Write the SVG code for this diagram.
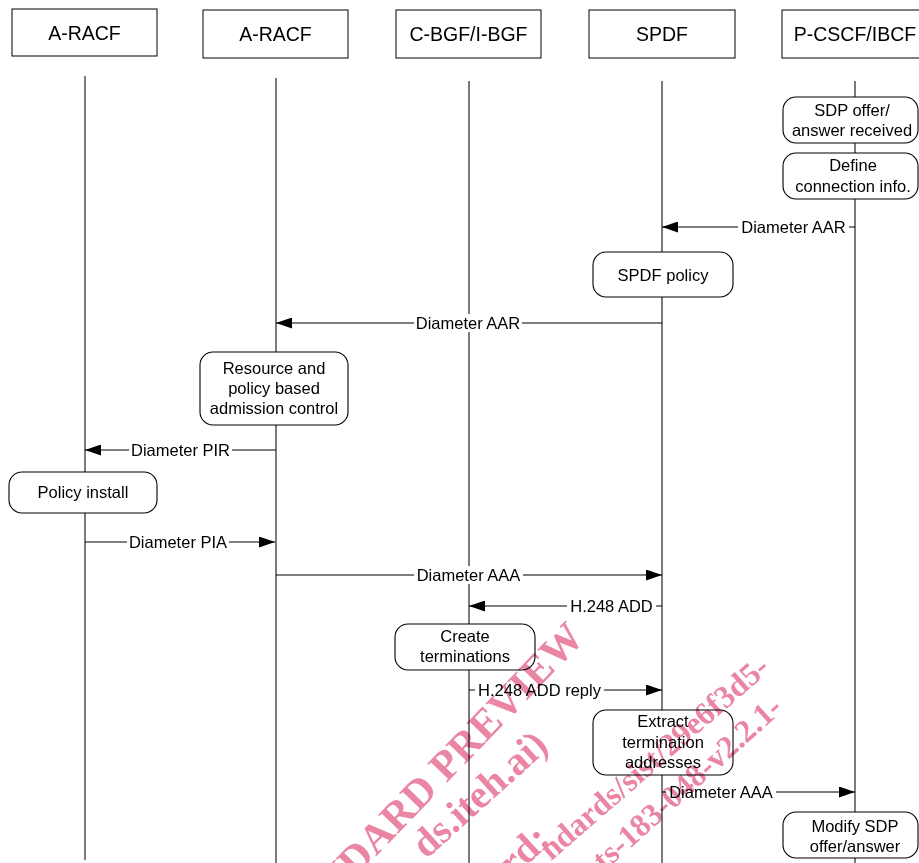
<svg xmlns="http://www.w3.org/2000/svg" width="919" height="863" viewBox="0 0 919 863">
<defs>
<style>
text{font-family:"Liberation Sans",Arial,sans-serif;fill:#000}
.hd{font-size:19.5px;text-anchor:middle}
.bx{fill:#fff;stroke:#000;stroke-width:1}
.act{fill:#fff;stroke:#000;stroke-width:1.1}
.at{font-size:16.5px;text-anchor:middle}
.life{stroke:#333;stroke-width:1.3;fill:none}
.msg{stroke:#000;stroke-width:1.1;fill:none}
.lbl{font-size:16.5px;text-anchor:middle}
.lb{fill:#fff}
.wm{font-family:"Liberation Serif","Times New Roman",serif;font-weight:bold;fill:#ea86a4;text-anchor:end}
</style>
<marker id="ah" markerUnits="userSpaceOnUse" markerWidth="17" markerHeight="11" refX="16" refY="5.5" orient="auto">
<path d="M0,0 L16,5.5 L0,11 Z" fill="#000"/>
</marker>
</defs>
<rect width="919" height="863" fill="#fff"/>

<g id="lifelines">
<line class="life" x1="85" y1="76" x2="85" y2="860"/>
<line class="life" x1="276" y1="78" x2="276" y2="863"/>
<line class="life" x1="469" y1="81" x2="469" y2="863"/>
<line class="life" x1="662" y1="81" x2="662" y2="863"/>
<line class="life" x1="855" y1="81" x2="855" y2="863"/>
</g>

<g id="head-aracf1"><rect class="bx" x="12" y="9" width="145" height="47"/><text class="hd" x="84.5" y="39.5">A-RACF</text></g>
<g id="head-aracf2"><rect class="bx" x="203" y="10" width="145" height="48"/><text class="hd" x="275.5" y="41">A-RACF</text></g>
<g id="head-cbgf"><rect class="bx" x="396" y="10" width="145" height="48"/><text class="hd" x="468.5" y="41">C-BGF/I-BGF</text></g>
<g id="head-spdf"><rect class="bx" x="589" y="10" width="146" height="48"/><text class="hd" x="662" y="41">SPDF</text></g>
<g id="head-pcscf"><rect class="bx" x="782" y="10" width="145" height="48"/><text class="hd" x="855" y="41">P-CSCF/IBCF</text></g>

<g id="connectors">
<line class="msg" x1="855" y1="227" x2="662" y2="227" marker-end="url(#ah)"/>
<rect class="lb" x="738" y="218" width="111" height="18"/>
<text class="lbl" x="793.5" y="233">Diameter AAR</text>

<line class="msg" x1="662" y1="323" x2="276" y2="323" marker-end="url(#ah)"/>
<rect class="lb" x="414" y="314" width="108" height="18"/>
<text class="lbl" x="468" y="329">Diameter AAR</text>

<line class="msg" x1="276" y1="450" x2="85" y2="450" marker-end="url(#ah)"/>
<rect class="lb" x="129" y="441" width="103" height="18"/>
<text class="lbl" x="180.5" y="456">Diameter PIR</text>

<line class="msg" x1="85" y1="542" x2="275" y2="542" marker-end="url(#ah)"/>
<rect class="lb" x="127" y="533" width="102" height="18"/>
<text class="lbl" x="178" y="548">Diameter PIA</text>

<line class="msg" x1="276" y1="575" x2="662" y2="575" marker-end="url(#ah)"/>
<rect class="lb" x="414" y="566" width="109" height="18"/>
<text class="lbl" x="468.5" y="581">Diameter AAA</text>

<line class="msg" x1="662" y1="606" x2="469" y2="606" marker-end="url(#ah)"/>
<rect class="lb" x="567" y="597" width="89" height="18"/>
<text class="lbl" x="611.5" y="612">H.248 ADD</text>

<line class="msg" x1="469" y1="690" x2="662" y2="690" marker-end="url(#ah)"/>
<rect class="lb" x="475" y="681" width="129" height="18"/>
<text class="lbl" x="539.5" y="696">H.248 ADD reply</text>

<line class="msg" x1="662" y1="792" x2="855" y2="792" marker-end="url(#ah)"/>
<rect class="lb" x="666" y="783" width="110" height="18"/>
<text class="lbl" x="721" y="798">Diameter AAA</text>
</g>

<g id="act-sdp-received"><rect class="act" x="783" y="97" width="135" height="46" rx="13"/><text class="at" x="852" y="116">SDP offer/</text><text class="at" x="852" y="136">answer received</text></g>
<g id="act-define"><rect class="act" x="783" y="153" width="135" height="46" rx="13"/><text class="at" x="853" y="171">Define</text><text class="at" x="853" y="192">connection info.</text></g>
<g id="act-spdf-policy"><rect class="act" x="593" y="252" width="140" height="45" rx="13"/><text class="at" x="663" y="281">SPDF policy</text></g>
<g id="act-resource"><rect class="act" x="200" y="352" width="148" height="73" rx="13"/><text class="at" x="274" y="374">Resource and</text><text class="at" x="274" y="394">policy based</text><text class="at" x="274" y="414">admission control</text></g>
<g id="act-policy-install"><rect class="act" x="9" y="472" width="148" height="41" rx="13"/><text class="at" x="83" y="498">Policy install</text></g>
<g id="act-create"><rect class="act" x="395" y="624" width="140" height="46" rx="13"/><text class="at" x="465" y="642">Create</text><text class="at" x="465" y="662">terminations</text></g>
<g id="act-extract"><rect class="act" x="593" y="710" width="140" height="65" rx="13"/><text class="at" x="663" y="727">Extract</text><text class="at" x="663" y="748">termination</text><text class="at" x="663" y="768">addresses</text></g>
<g id="act-modify"><rect class="act" x="783" y="812" width="135" height="46" rx="13"/><text class="at" x="855" y="832">Modify SDP</text><text class="at" x="855" y="852">offer/answer</text></g>

<g id="watermark" style="mix-blend-mode:multiply">
<text class="wm" font-size="42" transform="translate(586,639) rotate(-46)">NDARD PREVIEW</text>
<text class="wm" font-size="40" transform="translate(550,748) rotate(-42)">ds.iteh.ai)</text>
<text class="wm" font-size="40" transform="translate(552,842) rotate(-43)">rd:</text>
<text class="wm" font-size="32" transform="translate(771,670) rotate(-41)">ndards/sist/29e6f3d5-</text>
<text class="wm" font-size="32" transform="translate(784,710) rotate(-42)">ts-183-048-v2.2.1-</text>
</g>
</svg>
